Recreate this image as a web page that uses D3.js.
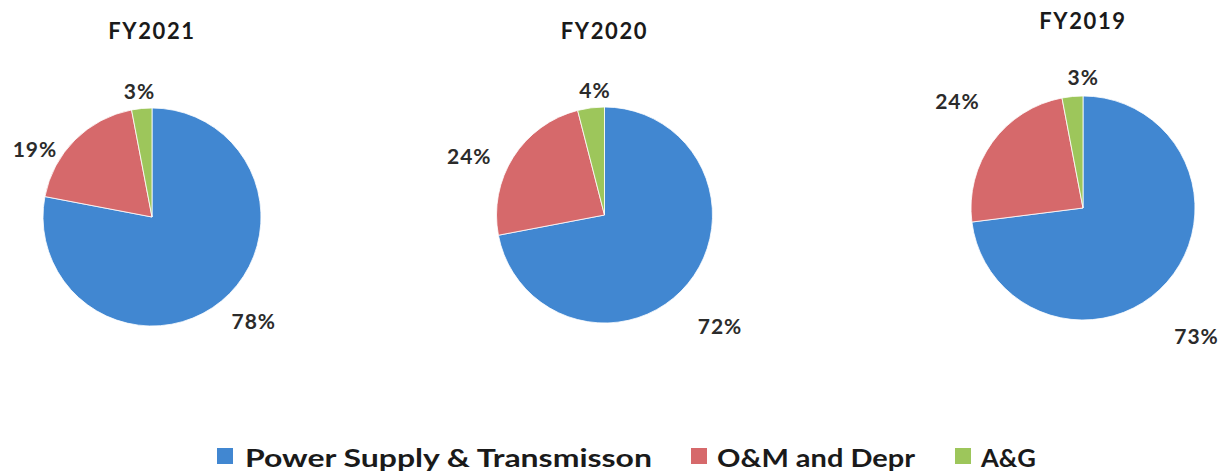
<!DOCTYPE html>
<html>
<head>
<meta charset="utf-8">
<script src="https://cdn.jsdelivr.net/npm/d3@7"></script>
<style>
  body { margin: 0; background: #fff; }
  svg { display: block; font-family: Lato, "Open Sans", sans-serif; }
</style>
</head>
<body>
<div id="chart"></div>
<script>
// data
const categories = ["Power Supply & Transmisson", "O&M and Depr", "A&G"];
const years = ["FY2021", "FY2020", "FY2019"];
const fy2021 = [78, 19, 3];
const fy2020 = [72, 24, 4];
const fy2019 = [73, 24, 3];
const seriesByYear = [fy2021, fy2020, fy2019];

const colors = ["#4187d1", "#d6696b", "#9dc65b"];

// layout for each pie (center, radius, title y, label nudges)
const pieLayout = [
  {cx: 152,  cy: 217, r: 109, titleY: 30, nudge: [[17, 1], [-23, 26], [0, 6]]},
  {cx: 604.5, cy: 215, r: 108, titleY: 30, nudge: [[14, 27], [-24, 11], [7, 5]]},
  {cx: 1083, cy: 208, r: 112, titleY: 20, nudge: [[11, 37], [-15, -27], [13, 5]]}
];

const width = 1221, height = 472;
const svg = d3.select("#chart").append("svg")
  .attr("width", width)
  .attr("height", height);

const color = d3.scaleOrdinal().domain(categories).range(colors);
const pie = d3.pie().sort(null);

years.forEach(function(yr, i){
  let L = pieLayout[i];
  let g = svg.append("g").attr("transform", "translate(" + L.cx + "," + L.cy + ")");
  let arc = d3.arc().innerRadius(0).outerRadius(L.r);
  let labelArc = d3.arc().innerRadius(L.r * 1.22).outerRadius(L.r * 1.22);
  let arcs = pie(seriesByYear[i]);

  g.selectAll("path").data(arcs).enter().append("path")
    .attr("d", arc)
    .attr("fill", (d, k) => color(categories[k]))
    .attr("stroke", "#fff")
    .attr("stroke-width", 0.8);

  g.selectAll("text.lbl").data(arcs).enter().append("text")
    .attr("class", "lbl")
    .attr("x", (d, k) => labelArc.centroid(d)[0] + L.nudge[k][0])
    .attr("y", (d, k) => labelArc.centroid(d)[1] + L.nudge[k][1])
    .attr("text-anchor", "middle")
    .attr("dominant-baseline", "central")
    .attr("font-size", 21)
    .attr("font-weight", "bold")
    .attr("letter-spacing", 1)
    .attr("fill", "#2b2b2b")
    .text(d => d.data + "%");

  svg.append("text")
    .attr("x", L.cx)
    .attr("y", L.titleY)
    .attr("text-anchor", "middle")
    .attr("dominant-baseline", "central")
    .attr("font-size", 22)
    .attr("font-weight", "bold")
    .attr("letter-spacing", 1.6)
    .attr("fill", "#1a1a1a")
    .text(yr);
});

// legend (the scan is stretched sideways, so the text is stretched to fit)
const legendX = [217, 691, 955];
const legendTextW = [407, 198, 55];
let legend = svg.append("g").attr("class", "legend");
categories.forEach(function(c, i){
  let item = legend.append("g").attr("transform", "translate(" + legendX[i] + ",456)");
  item.append("rect")
    .attr("x", 0).attr("y", -8)
    .attr("width", 16).attr("height", 16)
    .attr("fill", color(c));
  item.append("text")
    .attr("x", i == 0 ? 28 : 26).attr("y", 1)
    .attr("dominant-baseline", "central")
    .attr("font-size", 24)
    .attr("font-weight", "bold")
    .attr("textLength", legendTextW[i])
    .attr("lengthAdjust", "spacingAndGlyphs")
    .attr("fill", "#1a1a1a")
    .text(c);
});
</script>
</body>
</html>
